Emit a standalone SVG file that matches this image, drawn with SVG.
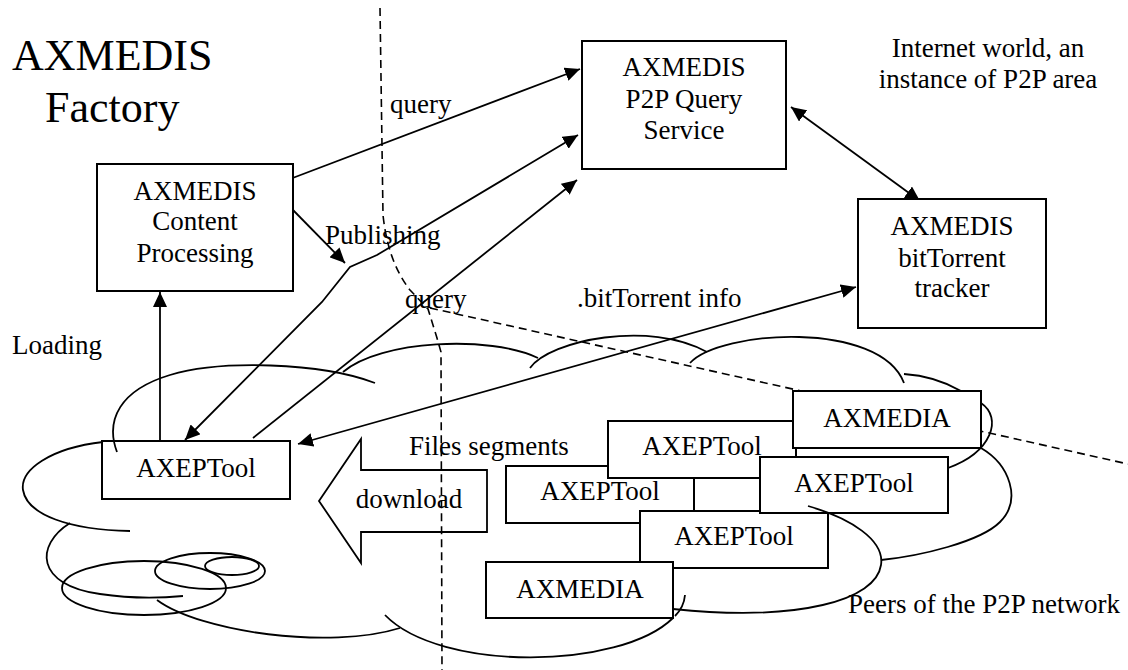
<svg xmlns="http://www.w3.org/2000/svg" width="1128" height="670" viewBox="0 0 1128 670">
<defs>
<marker id="ah" viewBox="0 0 15 14" refX="15" refY="7" markerWidth="15" markerHeight="14" markerUnits="userSpaceOnUse" orient="auto-start-reverse">
<path d="M0,0 L15,7 L0,14 z" fill="#000"/>
</marker>
<style>
.box{fill:#fff;stroke:#000;stroke-width:2}
.t{font-family:"Liberation Serif","Times New Roman",serif;font-size:27px;fill:#000}
.c{text-anchor:middle}
.big{font-family:"Liberation Serif","Times New Roman",serif;font-size:44px;fill:#000}
.ln{fill:none;stroke:#000;stroke-width:1.8}
.dash{fill:none;stroke:#000;stroke-width:1.6;stroke-dasharray:8,5}
.cl{fill:none;stroke:#000;stroke-width:1.8}
</style>
</defs>
<rect width="1128" height="670" fill="#fff"/>

<g id="connectors">
<path class="dash" d="M380,8 L383,215 Q388,262 410,290 L428,309 L437,338 L441,352 L442,670"/>
<path class="dash" d="M430,308 L1128,464"/>
<path class="ln" d="M160,441 L160,292" marker-end="url(#ah)"/>
<path class="ln" d="M290,179 L580,69" marker-end="url(#ah)"/>
<path class="ln" d="M292,209 L345,263" marker-end="url(#ah)"/>
<path class="ln" d="M185,440 L322,302 L350,267 L377,255 L578,135" marker-start="url(#ah)" marker-end="url(#ah)"/>
<path class="ln" d="M253,438 L577,180" marker-end="url(#ah)"/>
<path class="ln" d="M298,444 L856,287" marker-start="url(#ah)" marker-end="url(#ah)"/>
<path class="ln" d="M791,107 L920,201" marker-start="url(#ah)" marker-end="url(#ah)"/>
<polygon class="ln" points="319,501 361,439 361,470 487,470 487,532 361,532 361,563"/>
</g>

<g id="labels">
<text class="big" x="12" y="70">AXMEDIS</text>
<text class="big" x="45" y="122">Factory</text>
<text class="t" x="390" y="113">query</text>
<text class="t" x="325" y="244">Publishing</text>
<text class="t" x="405" y="308">query</text>
<text class="t" x="577" y="307">.bitTorrent info</text>
<text class="t" x="12" y="354">Loading</text>
<text class="t" x="409" y="455">Files segments</text>
<text class="t c" x="409" y="508">download</text>
<text class="t c" x="988" y="57">Internet world, an</text>
<text class="t c" x="988" y="88">instance of P2P area</text>
<text class="t" x="848" y="613">Peers of the P2P network</text>
</g>

<g id="node-content-processing">
<rect class="box" x="97" y="164" width="196" height="127"/>
<text class="t c" x="195" y="200">AXMEDIS</text>
<text class="t c" x="195" y="230">Content</text>
<text class="t c" x="195" y="262">Processing</text>
</g>
<g id="node-query-service">
<rect class="box" x="582" y="41" width="204" height="128"/>
<text class="t c" x="684" y="76">AXMEDIS</text>
<text class="t c" x="684" y="108">P2P Query</text>
<text class="t c" x="684" y="139">Service</text>
</g>
<g id="node-tracker">
<rect class="box" x="858" y="199" width="188" height="129"/>
<text class="t c" x="952" y="235">AXMEDIS</text>
<text class="t c" x="952" y="267">bitTorrent</text>
<text class="t c" x="952" y="297">tracker</text>
</g>
<g id="node-axeptool-local">
<rect class="box" x="102" y="441" width="188" height="58"/>
<text class="t c" x="196" y="477">AXEPTool</text>
</g>
<g id="node-axeptool-1">
<rect class="box" x="506" y="466" width="188" height="57"/>
<text class="t c" x="600" y="500">AXEPTool</text>
</g>
<g id="node-axeptool-2">
<rect class="box" x="608" y="421" width="188" height="57"/>
<text class="t c" x="702" y="455">AXEPTool</text>
</g>
<g id="node-axeptool-3">
<rect class="box" x="640" y="511" width="188" height="57"/>
<text class="t c" x="734" y="545">AXEPTool</text>
</g>
<g id="node-axmedia-2">
<rect class="box" x="486" y="562" width="187" height="56"/>
<text class="t c" x="580" y="598">AXMEDIA</text>
</g>
<g id="node-axeptool-4">
<rect class="box" x="760" y="457" width="188" height="56"/>
<text class="t c" x="854" y="492">AXEPTool</text>
</g>
<g id="node-axmedia-1">
<rect class="box" x="793" y="391" width="188" height="57"/>
<text class="t c" x="887" y="427">AXMEDIA</text>
</g>

<g id="cloud">
<path class="cl" d="M117,452 C105,420 120,390 170,375 C220,360 320,362 375,383"/>
<path class="cl" d="M103,442 C50,448 20,470 23,490 C27,515 70,530 130,531"/>
<path class="cl" d="M70,523 C35,545 35,585 100,594 Q140,600 183,596"/>
<path class="cl" d="M157,600 C200,632 330,650 400,628"/>
<path class="cl" d="M385,615 C440,672 620,670 673,618"/>
<path class="cl" d="M685,595 Q684,607 675,616"/>
<path class="cl" d="M808,506 C850,518 885,540 881,565 C876,600 800,622 673,609"/>
<path class="cl" d="M981,448 C1010,465 1022,500 1000,522 C980,542 920,556 881,560"/>
<path class="cl" d="M981,403 C1003,418 992,452 948,468"/>
<path class="cl" d="M904,374 Q935,376 961,391"/>
<path class="cl" d="M690,363 C720,330 880,320 904,383"/>
<path class="cl" d="M530,368 C550,340 650,320 707,352"/>
<path class="cl" d="M343,372 C380,340 490,335 538,358"/>
<ellipse class="cl" cx="144" cy="588" rx="82" ry="27"/>
<ellipse class="cl" cx="210" cy="571" rx="55" ry="18"/>
<ellipse class="cl" cx="232" cy="566" rx="27" ry="9"/>
</g>
</svg>
